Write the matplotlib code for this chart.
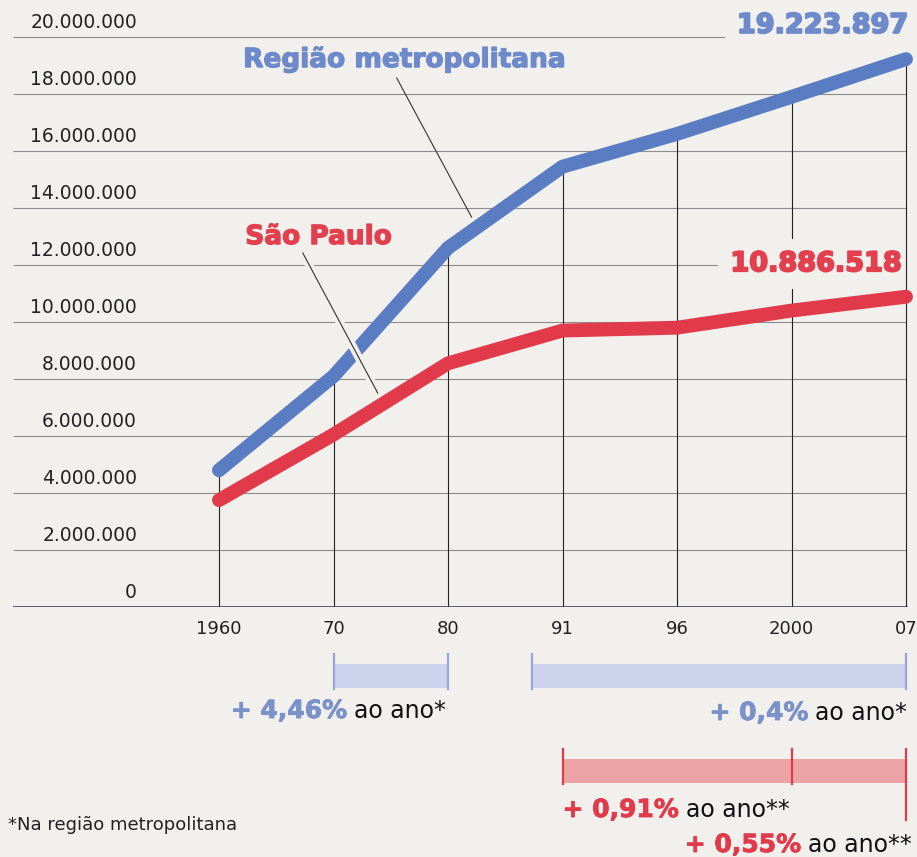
import matplotlib
matplotlib.use("Agg")
import matplotlib.pyplot as plt
from matplotlib.patches import Rectangle
from matplotlib import transforms
import matplotlib.patheffects as pe

# dados (populacao)
anos = ["1960", "70", "80", "91", "96", "2000", "07"]
regiao_metropolitana = [4.8e6, 8.1e6, 12.6e6, 15.45e6, 16.6e6, 17.9e6, 19223897]
sao_paulo = [3.75e6, 6.05e6, 8.55e6, 9.7e6, 9.8e6, 10.4e6, 10886518]
y_ticks = [0, 2e6, 4e6, 6e6, 8e6, 10e6, 12e6, 14e6, 16e6, 18e6, 20e6]

# taxas de crescimento (inicio/fim em posicao de categoria)
taxa_rm_inicio = [1, 2.73]
taxa_rm_fim = [2, 6]
taxa_rm_texto = ["+ 4,46%", "+ 0,4%"]
taxa_sp_marcas = [3, 5, 6]
taxa_sp_texto = ["+ 0,91%", "+ 0,55%"]

papel = "#f1f0ec"
azul = "#5a7cc3"
azul_txt = "#6f8aca"
vermelho = "#e13a4b"
vermelho_txt = "#e3404f"

W, H = 917, 857
fig = plt.figure(figsize=(W / 100, H / 100), dpi=100, facecolor=papel)

def fy(py):
    return 1 - py / H

x0_px, passo = 219, 114.5
xmin = (13 - x0_px) / passo
xmax = (W - x0_px) / passo
ax = fig.add_axes([13 / W, fy(607), (W - 13) / W, 607 / H])
ax.set_facecolor(papel)
ax.set_xlim(xmin, xmax)
ax.set_ylim(0, 607 / 28.5 * 1e6)
ax.axis("off")

x = list(range(len(anos)))
fmt = lambda v: f"{int(v):,}".replace(",", ".")

# grade
ax.hlines(y_ticks[1:], xmin, x[-1], color="#8c8c8c", lw=0.8, zorder=1)
ax.plot([xmin, x[-1]], [0, 0], color="#2d3354", lw=1.8, zorder=3.6)
ytr = transforms.blended_transform_factory(ax.transAxes, ax.transData)
for v in y_ticks:
    ax.annotate(fmt(v), xy=(124 / (W - 13), v), xycoords=ytr, xytext=(0, 6.5),
                textcoords="offset points", ha="right", va="baseline",
                fontsize=13.5, color="#222222")

# linhas verticais (a ultima fica por cima da caixa do rotulo) e rotulos do eixo x
ax.vlines(x[:-1], -0.2e6, regiao_metropolitana[:-1], color="#222222", lw=0.8, zorder=2)
ax.vlines(x[-1], -0.2e6, regiao_metropolitana[-1], color="#222222", lw=0.8, zorder=3.5)
for xi, a in zip(x, anos):
    ax.annotate(a, xy=(xi, 0), xytext=(0, -16), textcoords="offset points",
                ha="center", va="center", fontsize=13, color="#222222")

# series
ax.plot(x, regiao_metropolitana, color=azul, lw=10, solid_capstyle="round",
        solid_joinstyle="round", zorder=5)
ax.plot(x, sao_paulo, color=vermelho, lw=10, solid_capstyle="round",
        solid_joinstyle="round", zorder=5)

# nomes das series com linhas de chamada
grosso_az = [pe.withStroke(linewidth=0.9, foreground=azul_txt)]
grosso_vm = [pe.withStroke(linewidth=0.9, foreground=vermelho_txt)]
ax.text(1.62, 19.19e6, "Região metropolitana", color=azul_txt, fontsize=19,
        fontweight="bold", ha="center", va="center", zorder=6, path_effects=grosso_az)
ax.plot([1.552, 2.206], [18.56e6, 13.68e6], color="#333333", lw=0.8, zorder=6)
ax.text(0.87, 12.98e6, "São Paulo", color=vermelho_txt, fontsize=19,
        fontweight="bold", ha="center", va="center", zorder=6, path_effects=grosso_vm)
ax.plot([0.732, 1.386], [12.42e6, 7.51e6], color="#333333", lw=0.8, zorder=6,
        path_effects=[pe.Stroke(linewidth=6, foreground=papel), pe.Normal()])

# valores finais
caixa = dict(boxstyle="square,pad=0.45", facecolor=papel, edgecolor="none")
ax.text(6.02, 20.39e6, fmt(regiao_metropolitana[-1]), color=azul_txt, fontsize=19.5,
        fontweight="bold", ha="right", va="center", bbox=caixa, zorder=3,
        path_effects=[pe.withStroke(linewidth=1.4, foreground=azul_txt)])
ax.text(5.96, 12.03e6, fmt(sao_paulo[-1]), color=vermelho_txt, fontsize=19.5,
        fontweight="bold", ha="right", va="center", bbox=caixa, zorder=3,
        path_effects=[pe.withStroke(linewidth=1.4, foreground=vermelho_txt)])

# faixas de crescimento abaixo do eixo
blend = transforms.blended_transform_factory(ax.transData, fig.transFigure)

def faixa(a, b, topo, base, cor_faixa, cor_marca, marcas, fim_marca=None):
    ax.add_patch(Rectangle((a, fy(base)), b - a, (base - topo) / H, transform=blend,
                           facecolor=cor_faixa, edgecolor="none", clip_on=False))
    for m in marcas:
        y1 = fim_marca if (fim_marca and m == marcas[-1]) else base + 1
        ax.plot([m, m], [fy(topo - 10), fy(y1)], transform=blend, color=cor_marca,
                lw=1.6, clip_on=False)

def taxa(xp, base, negrito, normal, cor, ha):
    grosso = [pe.withStroke(linewidth=0.6, foreground=cor)]
    if ha == "right":
        t = ax.text(xp, fy(base), normal, transform=blend, ha="right", va="baseline",
                    fontsize=17, color="#111111")
        ax.annotate(negrito, xy=(0, fy(base)), xycoords=(t, "figure fraction"),
                    xytext=(-5, 0), textcoords="offset points", ha="right",
                    va="baseline", fontsize=18, fontweight="bold", color=cor,
                    path_effects=grosso)
    else:
        t = ax.text(xp, fy(base), negrito, transform=blend, ha="left", va="baseline",
                    fontsize=18, fontweight="bold", color=cor, path_effects=grosso)
        ax.annotate(normal, xy=(1, fy(base)), xycoords=(t, "figure fraction"),
                    xytext=(5, 0), textcoords="offset points", ha="left",
                    va="baseline", fontsize=17, color="#111111")

for a, b in zip(taxa_rm_inicio, taxa_rm_fim):
    faixa(a, b, 664, 688, "#cdd3ec", "#97a5d8", [a, b])
faixa(taxa_sp_marcas[0], taxa_sp_marcas[-1], 759, 783, "#eba3a6", vermelho,
      taxa_sp_marcas, fim_marca=820)

taxa(taxa_rm_fim[0] - 0.02, 718, taxa_rm_texto[0], "ao ano*", "#7b92c9", "right")
taxa(taxa_rm_fim[1] + 0.01, 720, taxa_rm_texto[1], "ao ano*", "#7b92c9", "right")
taxa(taxa_sp_marcas[0], 817, taxa_sp_texto[0], "ao ano**", vermelho, "left")
taxa(taxa_sp_marcas[-1] + 0.05, 852, taxa_sp_texto[1], "ao ano**", vermelho, "right")

fig.text(8 / W, fy(830), "*Na região metropolitana", fontsize=13, va="baseline",
         color="#222222")

fig.savefig("out.png", dpi=100, facecolor=papel)
